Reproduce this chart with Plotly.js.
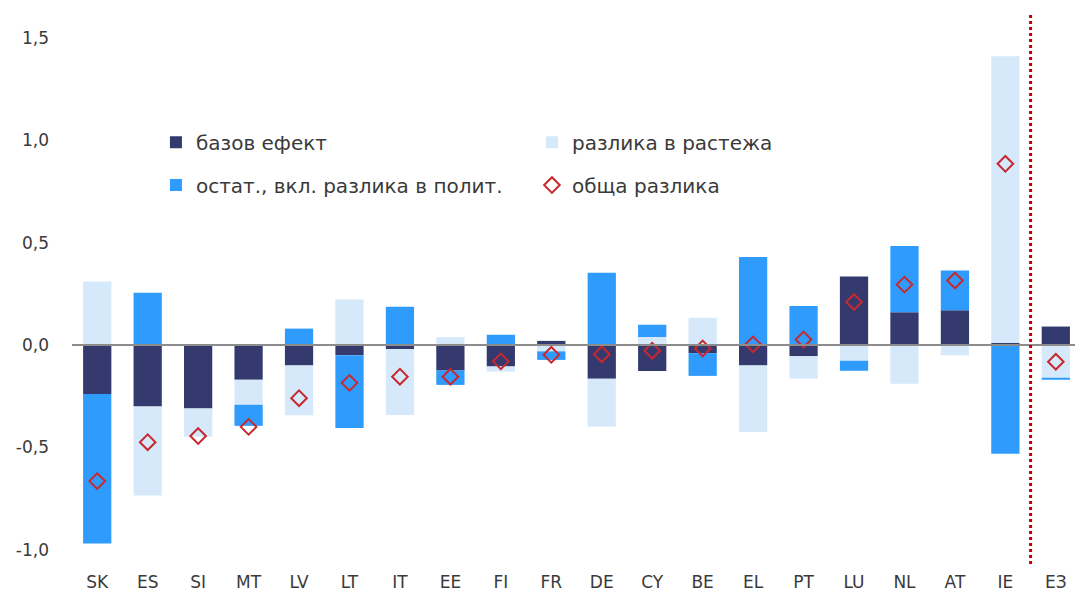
<!DOCTYPE html>
<html>
<head>
<meta charset="utf-8">
<script src="https://cdn.plot.ly/plotly-3.0.1.min.js"></script>
<style>html,body{margin:0;padding:0;background:#fff;}#chart{width:1075px;height:592px;}</style>
</head>
<body>
<div id="chart"></div>
<script>
const categories = ["SK","ES","SI","MT","LV","LT","IT","EE","FI","FR","DE","CY","BE","EL","PT","LU","NL","AT","IE","ЕЗ"];
const baseEffect   = [-0.24,-0.30,-0.31,-0.17,-0.10,-0.05,-0.02,-0.125,-0.105, 0.02,-0.165,-0.127,-0.04,-0.10,-0.055, 0.335, 0.16, 0.17, 0.01, 0.09];
const growthDiff   = [ 0.31,-0.435,-0.138,-0.122,-0.243, 0.222,-0.322, 0.038,-0.025,-0.031,-0.233, 0.039, 0.133,-0.325,-0.11,-0.077,-0.19,-0.05, 1.40,-0.16];
const residual     = [-0.73, 0.255, 0.0,-0.103, 0.08,-0.355, 0.187,-0.07, 0.05,-0.042, 0.353, 0.06,-0.111, 0.43, 0.19,-0.049, 0.323, 0.194,-0.531,-0.01];
const totalDiff    = [-0.665,-0.475,-0.445,-0.40,-0.26,-0.185,-0.155,-0.155,-0.08,-0.048,-0.045,-0.028,-0.017, 0.003, 0.027, 0.21, 0.295, 0.315, 0.885,-0.082];
const seriesNames = ["базов ефект","разлика в растежа","остат., вкл. разлика в полит.","обща разлика"];
const yTickVals = [-1.0,-0.5,0.0,0.5,1.0,1.5];
const yTickText = ["-1,0","-0,5","0,0","0,5","1,0","1,5"];

const font = {family: "DejaVu Sans, Verdana, sans-serif", size: 17, color: "#3a3a3a"};
const barW = 0.56;

const traces = [
  {type:"bar", x:categories, y:baseEffect, name:seriesNames[0], width:barW, marker:{color:"#343a6e"}, legend:"legend"},
  {type:"bar", x:categories, y:growthDiff, name:seriesNames[1], width:barW, marker:{color:"#d5e9fb"}, legend:"legend"},
  {type:"bar", x:categories, y:residual, name:seriesNames[2], width:barW, marker:{color:"#2f9bfd"}, legend:"legend2"},
  {type:"scatter", mode:"markers", x:categories, y:totalDiff, name:seriesNames[3], legend:"legend2",
   marker:{symbol:"diamond-open", size:12, color:"#c8282e", line:{width:2, color:"#c8282e"}}}
];

const layout = {
  width:1075, height:592,
  margin:{l:72, r:0, t:14, b:28},
  paper_bgcolor:"#fff", plot_bgcolor:"#fff",
  font: font,
  barmode:"relative",
  xaxis:{type:"category", range:[-0.5,19.38], showgrid:false, zeroline:false, showline:false, ticks:"", ticklabelstandoff:6, tickfont:{...font, size:17}},
  yaxis:{range:[-1.07,1.617], tickvals:yTickVals, ticktext:yTickText, showgrid:false, zeroline:false, showline:false, ticks:"", ticklabelstandoff:22, tickfont:{...font, size:17}},
  showlegend:true,
  legend:{orientation:"h", x:0.0837, xanchor:"left", y:0.767, yanchor:"middle", entrywidth:331, font:{...font, size:20}, bgcolor:"rgba(0,0,0,0)"},
  legend2:{orientation:"h", x:0.0837, xanchor:"left", y:0.689, yanchor:"middle", entrywidth:331, font:{...font, size:20}, bgcolor:"rgba(0,0,0,0)"},
  shapes:[
    {type:"line", xref:"paper", x0:0, x1:1, yref:"y", y0:0, y1:0, line:{color:"#8c8c8c", width:2}, layer:"above"},
    {type:"line", xref:"x", x0:18.5, x1:18.5, yref:"paper", y0:0, y1:1, line:{color:"#c00000", width:3, dash:"dot"}, layer:"above"}
  ]
};

Plotly.newPlot("chart", traces, layout, {staticPlot:true});
</script>
</body>
</html>
